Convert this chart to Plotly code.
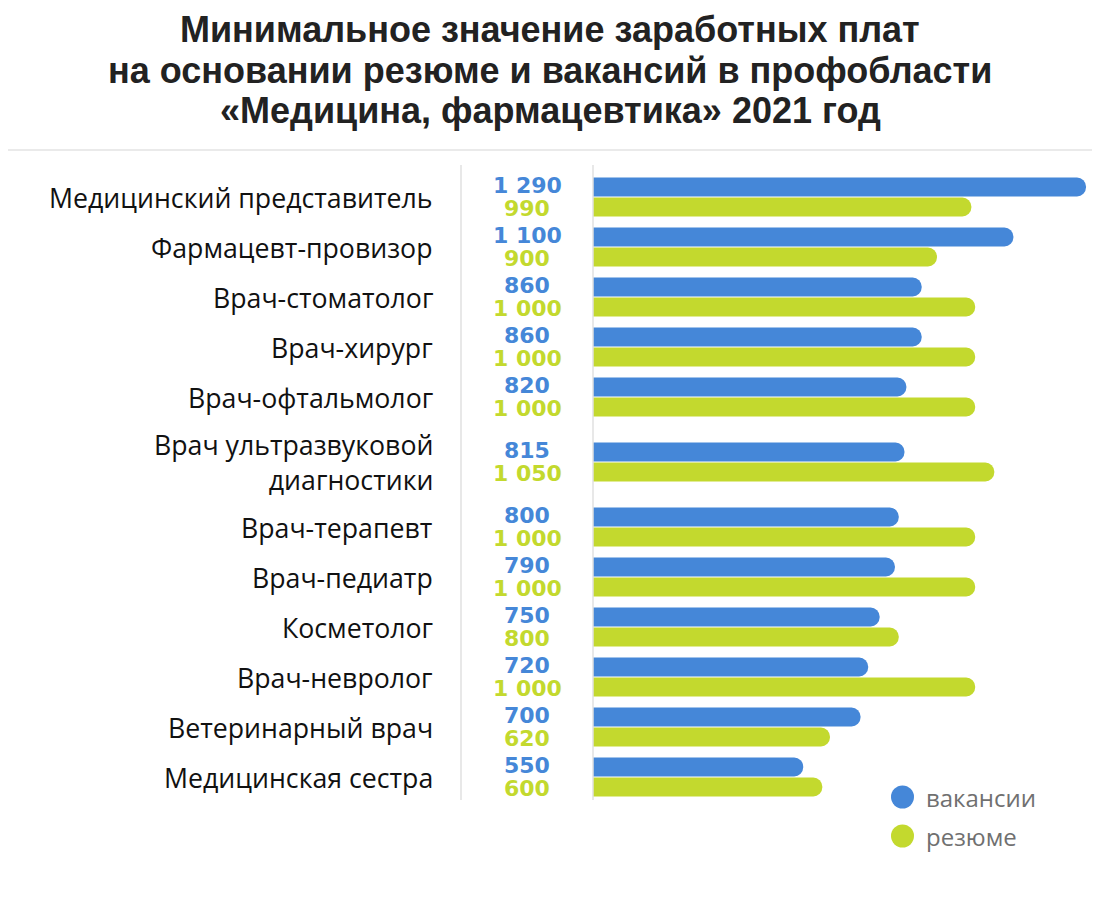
import plotly.graph_objects as go

categories = [
    "Медицинский представитель",
    "Фармацевт-провизор",
    "Врач-стоматолог",
    "Врач-хирург",
    "Врач-офтальмолог",
    "Врач ультразвуковой<br>диагностики",
    "Врач-терапевт",
    "Врач-педиатр",
    "Косметолог",
    "Врач-невролог",
    "Ветеринарный врач",
    "Медицинская сестра",
]
vacancies = [1290, 1100, 860, 860, 820, 815, 800, 790, 750, 720, 700, 550]
resumes = [990, 900, 1000, 1000, 1000, 1050, 1000, 1000, 800, 1000, 620, 600]
vac_labels = ["1 290", "1 100", "860", "860", "820", "815", "800", "790", "750", "720", "700", "550"]
res_labels = ["990", "900", "1 000", "1 000", "1 000", "1 050", "1 000", "1 000", "800", "1 000", "620", "600"]
title_lines = [
    "Минимальное значение заработных плат",
    "на основании резюме и вакансий в профобласти",
    "«Медицина, фармацевтика» 2021 год",
]
legend_names = ["вакансии", "резюме"]

BLUE = "#4587d8"
GREEN = "#c3d92e"

# the page body has an 8px margin; lay out in page pixels and convert
OFF = 8
PAGE_W, PAGE_H = 1100, 903
W, H = PAGE_W - OFF, PAGE_H - OFF

top_px, bot_px = 165, 800          # plot area (page px)
first_px, unit_px = 197, 50        # first category centre, px per unit
base_px, max_px = 593, 1086        # bar baseline and end of the longest bar


def fx(px):
    return (px - OFF) / W


def fy(py):
    # page y pixel -> paper fraction
    return ((bot_px - OFF) - (py - OFF)) / (bot_px - top_px)


# vertical positions: extra room around two-line labels
pos = []
p = 0.0
for i, c in enumerate(categories):
    if i > 0:
        step = 1.3 if ("<br>" in c or "<br>" in categories[i - 1]) else 1.0
        p += step
    pos.append(round(p, 3))

fig = go.Figure()
fig.add_trace(go.Bar(
    y=pos, x=vacancies, orientation="h", name=legend_names[0],
    marker=dict(color=BLUE, cornerradius=10, line=dict(width=0)),
    width=0.38, offset=-0.39, showlegend=False, hoverinfo="x",
))
fig.add_trace(go.Bar(
    y=pos, x=resumes, orientation="h", name=legend_names[1],
    marker=dict(color=GREEN, cornerradius=10, line=dict(width=0)),
    width=0.38, offset=0.01, showlegend=False, hoverinfo="x",
))

y_top = (top_px - first_px) / unit_px
y_bot = (bot_px - first_px) / unit_px

ann = []
# title lines
for line, cy in zip(title_lines, (30, 70.5, 111)):
    ann.append(dict(x=fx(550), xref="paper", y=fy(cy), yref="paper", text=line,
                    showarrow=False, xanchor="center", yanchor="middle",
                    font=dict(family="Liberation Sans", size=36, color="#222222", weight=700)))

for c, yp, vl, rl in zip(categories, pos, vac_labels, res_labels):
    ann.append(dict(x=fx(435), xref="paper", y=yp, yref="y", text=c, showarrow=False,
                    xanchor="right", yanchor="middle", align="right",
                    font=dict(family="Open Sans", size=26.7, color="#111111")))
    ann.append(dict(x=fx(527), xref="paper", y=yp - 0.235, yref="y", text=vl, showarrow=False,
                    xanchor="center", yanchor="middle",
                    font=dict(family="DejaVu Sans", size=22, color=BLUE, weight=700)))
    ann.append(dict(x=fx(527), xref="paper", y=yp + 0.235, yref="y", text=rl, showarrow=False,
                    xanchor="center", yanchor="middle",
                    font=dict(family="DejaVu Sans", size=22, color=GREEN, weight=700)))

# legend (circle markers + labels)
shapes = []
for name, col, ypx in zip(legend_names, (BLUE, GREEN), (797, 836)):
    shapes.append(dict(type="circle", xref="paper", yref="paper",
                       x0=fx(891), x1=fx(914), y0=fy(ypx + 11.5), y1=fy(ypx - 11.5),
                       fillcolor=col, line=dict(width=0)))
    ann.append(dict(x=fx(924), xref="paper", y=fy(ypx), yref="paper", text=name,
                    showarrow=False, xanchor="left", yanchor="middle",
                    font=dict(family="Open Sans", size=24, color="#707070")))

# separators
shapes.append(dict(type="line", xref="paper", yref="paper", x0=0, x1=1,
                   y0=fy(150), y1=fy(150), line=dict(color="#e3e3e3", width=1.5)))
for xv in (461, 593):
    shapes.append(dict(type="line", xref="paper", yref="paper", x0=fx(xv), x1=fx(xv),
                       y0=0, y1=1, line=dict(color="#e0e0e0", width=1.5)))

fig.update_layout(
    width=W, height=H,
    margin=dict(l=0, r=0, t=top_px - OFF, b=H - (bot_px - OFF), pad=0),
    paper_bgcolor="white", plot_bgcolor="white",
    barmode="overlay",
    xaxis=dict(domain=[fx(base_px), 1],
               range=[0, 1290 * (PAGE_W - base_px) / (max_px - base_px)],
               visible=False, fixedrange=True),
    yaxis=dict(range=[y_bot, y_top], visible=False, fixedrange=True),
    annotations=ann,
    shapes=shapes,
)

fig.write_html("out.html")
